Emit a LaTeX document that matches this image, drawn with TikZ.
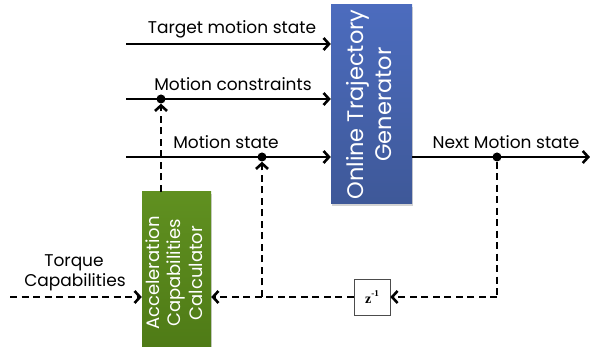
\documentclass[tikz,border=0pt]{standalone}
\usepackage{fontspec}
\setmainfont{Poppins}
\newfontfamily\serifz{Liberation Serif}
\usetikzlibrary{arrows.meta,shadows}
\definecolor{otgtop}{RGB}{76,108,190}
\definecolor{otgbot}{RGB}{62,88,152}
\definecolor{acctop}{RGB}{96,144,32}
\definecolor{accbot}{RGB}{78,122,22}
\tikzset{
  lbl/.style={anchor=base,font=\fontsize{17}{20}\selectfont,inner sep=0pt},
  arr/.style={line width=2.6pt,-{Straight Barb[length=5.5pt,width=12pt]}},
  darr/.style={arr,dash pattern=on 7pt off 4.5pt},
  dline/.style={line width=2.6pt,dash pattern=on 7pt off 4.5pt},
  dot/.style={circle,fill=black,inner sep=0pt,minimum size=9pt},
  otgbox/.style={top color=otgtop,bottom color=otgbot,draw=none,inner sep=0pt,text=white,
    drop shadow={opacity=0.35,shadow xshift=1pt,shadow yshift=-2pt}},
  accbox/.style={top color=acctop,bottom color=accbot,draw=none,inner sep=0pt,text=white,
    drop shadow={opacity=0.35,shadow xshift=1pt,shadow yshift=-2pt}},
  zbox/.style={draw=black!70,fill=white,line width=0.6pt,minimum size=36pt,inner sep=0pt,
    drop shadow={opacity=0.25,shadow xshift=1pt,shadow yshift=-1.5pt}}
}
\begin{document}
\begin{tikzpicture}[x=1pt,y=-1pt]
\useasboundingbox (0,0) rectangle (590,347);
\begin{scope}
\clip (0,0) rectangle (590,347);
\node[otgbox,minimum width=81pt,minimum height=199pt] (otg) at (371.5,104.5)
  {\rotatebox{90}{\fontsize{22.5}{28}\selectfont\begin{tabular}{@{}c@{}}Online Trajectory\\Generator\end{tabular}}};
\node[accbox,minimum width=69pt,minimum height=162pt] (acc) at (176.5,273)
  {\raisebox{-5pt}{\rotatebox{90}{\fontsize{18}{21.5}\selectfont\begin{tabular}{@{}c@{}}Acceleration\\Capabilities\\Calculator\end{tabular}}}};
\end{scope}
\node[zbox] (z) at (372,297) {\serifz\bfseries\fontsize{14}{14}\selectfont z\raisebox{0.45em}{\fontsize{9}{9}\selectfont -1}};

% free ends
\coordinate (in1) at (126,44);
\coordinate (in2) at (126,99);
\coordinate (in3) at (126,157);
\coordinate (out) at (590,157);
\coordinate (tq) at (10,297);
\node[dot] (d1) at (161,99) {};
\node[dot] (d2) at (262,157) {};
\node[dot] (d3) at (497,157) {};
\coordinate (c1) at (262,297);
\coordinate (c2) at (497,297);

% solid inputs
\draw[arr] (in1) -- (in1 -| otg.west);
\draw[arr] (in2) -- (in2 -| otg.west);
\draw[arr] (in3) -- (in3 -| otg.west);
\draw[arr] (otg.east |- out) -- (out);

% dashed feedback
\draw[dline] (d3) -- (c2);
\draw[darr] (c2) -- (z.east);
\draw[darr] (z.west) -- (z.west -| acc.east);
\draw[darr] (c1) -- (d2.south);
\draw[darr] (acc.north -| d1) -- (d1.south);
\draw[darr] (tq) -- (tq -| acc.west);

% labels
\node[lbl] (t1) at (232,34) {Target motion state};
\node[lbl] (t2) at (233,91) {Motion constraints};
\node[lbl] (t3) at (226,149) {Motion state};
\node[lbl] (t4) at (506,149) {Next Motion state};
\node[lbl] (t5) at (74,267) {Torque};
\node[lbl] (t6) at (75,287) {Capabilities};
\end{tikzpicture}
\end{document}
